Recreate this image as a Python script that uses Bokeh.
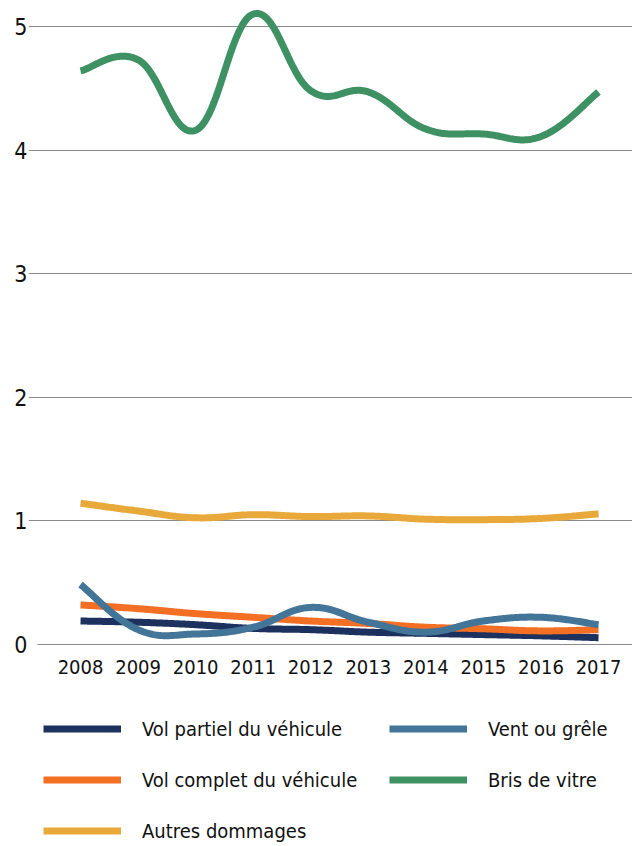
import numpy as np
from bokeh.plotting import figure
from bokeh.models import Range1d, FixedTicker, Legend, LegendItem, ColumnDataSource
from bokeh.embed import file_html
from bokeh.resources import INLINE

# ---- data ----
years = [2008, 2009, 2010, 2011, 2012, 2013, 2014, 2015, 2016, 2017]
vol_partiel = [0.19, 0.18, 0.16, 0.13, 0.12, 0.10, 0.09, 0.08, 0.07, 0.055]
vol_complet = [0.32, 0.29, 0.25, 0.22, 0.19, 0.17, 0.14, 0.127, 0.11, 0.12]
vent_grele = [0.485, 0.12, 0.085, 0.14, 0.30, 0.18, 0.10, 0.19, 0.22, 0.16]
bris_vitre = [4.64, 4.73, 4.16, 5.10, 4.48, 4.47, 4.17, 4.13, 4.11, 4.47]
autres = [1.143, 1.08, 1.025, 1.05, 1.035, 1.04, 1.014, 1.01, 1.02, 1.057]
y_ticks = [0, 1, 2, 3, 4, 5]

colors = {"Vol partiel du véhicule": "#1c315e",
          "Vol complet du véhicule": "#f36f24",
          "Autres dommages": "#e9a83a",
          "Vent ou grêle": "#437599",
          "Bris de vitre": "#3e9163"}
series = {"Vol partiel du véhicule": vol_partiel,
          "Vol complet du véhicule": vol_complet,
          "Autres dommages": autres,
          "Vent ou grêle": vent_grele,
          "Bris de vitre": bris_vitre}


def smooth(xs, ys, k=0.2, n=40):
    """Cardinal-spline rendering of the polyline (curve passes through every point)."""
    xs = np.asarray(xs, float)
    ys = np.asarray(ys, float)
    m = len(xs)
    out_x, out_y = [], []
    for i in range(m - 1):
        p0 = np.array([xs[i], ys[i]])
        p3 = np.array([xs[i + 1], ys[i + 1]])
        prev = np.array([xs[i - 1], ys[i - 1]]) if i > 0 else p0
        nxt = np.array([xs[i + 2], ys[i + 2]]) if i + 2 < m else p3
        c1 = p0 + k * (p3 - prev)
        c2 = p3 - k * (nxt - p0)
        t = np.linspace(0, 1, n)[:, None]
        b = ((1 - t) ** 3) * p0 + 3 * ((1 - t) ** 2) * t * c1 + 3 * (1 - t) * t ** 2 * c2 + t ** 3 * p3
        if i > 0:
            b = b[1:]
        out_x.extend(b[:, 0])
        out_y.extend(b[:, 1])
    return out_x, out_y


FONT = "DejaVu Sans Condensed, Roboto"
FRAME_W = 604
x_start, x_end = 2007.096, 2017.59
y_start, y_end = -1.6343, 5.21

p = figure(width=632, height=846, output_backend="svg", toolbar_location=None,
           x_range=Range1d(x_start, x_end), y_range=Range1d(y_start, y_end),
           min_border_left=28, min_border_right=0, min_border_top=0, min_border_bottom=0)
p.outline_line_color = None
p.background_fill_color = "white"
p.border_fill_color = "white"

p.xgrid.grid_line_color = None
p.ygrid.ticker = FixedTicker(ticks=y_ticks[1:])
p.ygrid.grid_line_color = "#8a8a8a"
p.ygrid.grid_line_width = 1

# zero line (starts slightly right of the others)
px_per_year = FRAME_W / (x_end - x_start)
p.segment(x0=[x_start + 9 / px_per_year], x1=[x_end], y0=[y_ticks[0]], y1=[y_ticks[0]],
          line_color="#8a8a8a", line_width=1)

p.xaxis.ticker = FixedTicker(ticks=years)
p.xaxis.fixed_location = y_ticks[0]
p.yaxis.ticker = FixedTicker(ticks=y_ticks)
for ax in (p.xaxis, p.yaxis):
    ax.axis_line_color = None
    ax.major_tick_line_color = None
    ax.minor_tick_line_color = None
    ax.major_tick_out = 0
    ax.major_tick_in = 0
    ax.major_label_text_font = FONT
    ax.major_label_text_color = "#111111"
p.xaxis.major_label_text_font_size = "20px"
p.yaxis.major_label_text_font_size = "23px"
p.xaxis.major_label_standoff = 16
p.yaxis.major_label_standoff = 1

renderers = {}
for name in ["Vol partiel du véhicule", "Vol complet du véhicule", "Autres dommages",
             "Bris de vitre", "Vent ou grêle"]:
    sx, sy = smooth(years, series[name])
    src = ColumnDataSource(dict(x=sx, y=sy))
    renderers[name] = p.line("x", "y", source=src, line_color=colors[name], line_width=7)

order = ["Vol partiel du véhicule", "Vent ou grêle", "Vol complet du véhicule",
         "Bris de vitre", "Autres dommages"]
legend = Legend(items=[LegendItem(label=n, renderers=[renderers[n]]) for n in order],
                location=(15, 2), orientation="horizontal", ncols=2,
                glyph_width=78, glyph_height=27, label_height=27, label_width=223,
                label_standoff=21, spacing=24, padding=0, margin=0,
                border_line_color=None, background_fill_alpha=0,
                label_text_font=FONT, label_text_font_size="20px",
                label_text_color="#111111")
p.add_layout(legend, "center")

open("out.html", "w").write(file_html(p, INLINE))
